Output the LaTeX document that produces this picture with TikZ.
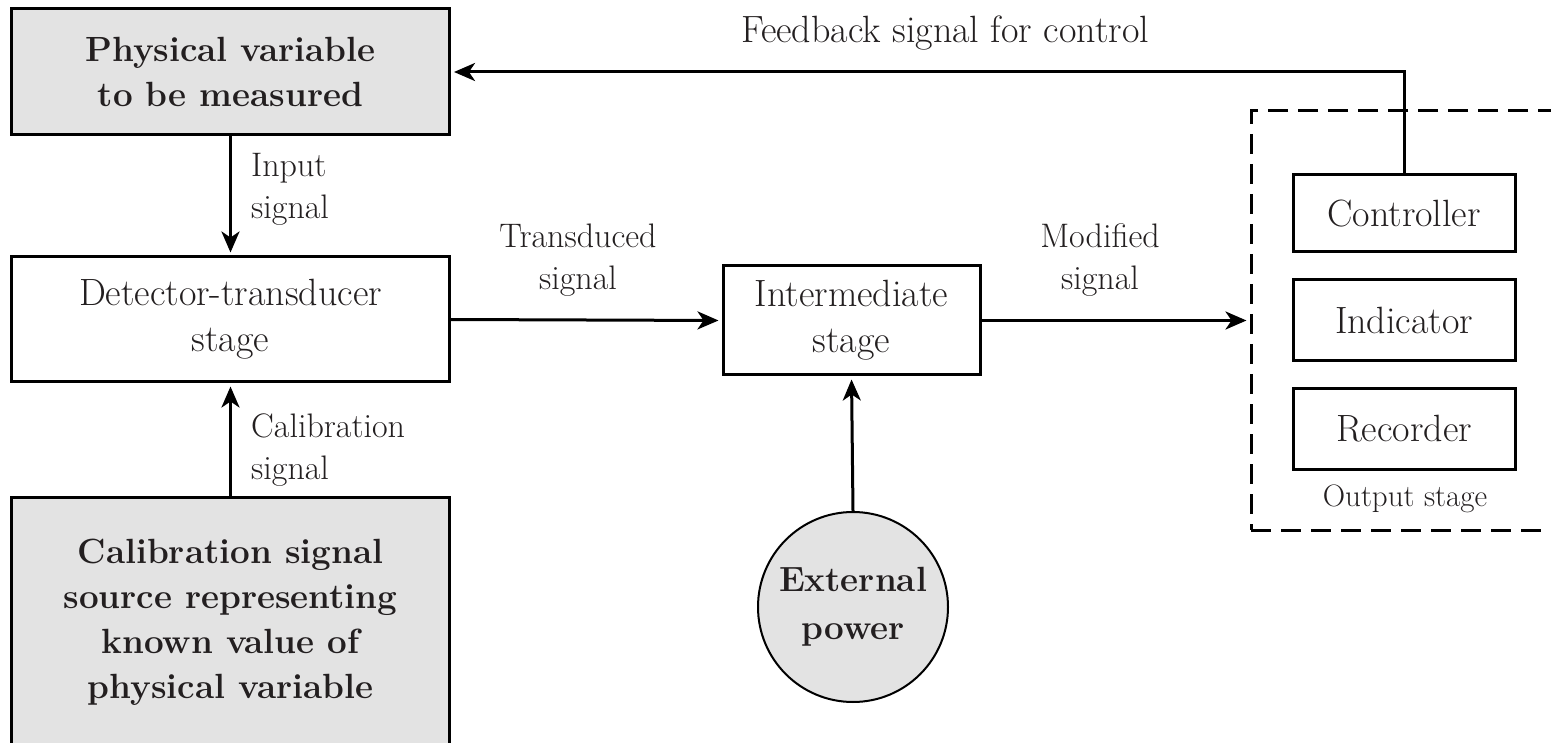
\documentclass[tikz,border=0pt]{standalone}
\usetikzlibrary{arrows.meta}
\definecolor{boxgray}{HTML}{E3E3E3}
\definecolor{txt}{HTML}{231F20}
\begin{document}
\begin{tikzpicture}[x=1pt,y=-1pt,
  every node/.style={text=txt},
  blk/.style={draw=black,line width=3pt,rectangle,inner sep=0pt,align=center,
    font=\fontsize{38}{46}\selectfont},
  grayblk/.style={blk,fill=boxgray,font=\fontsize{35}{45}\selectfont\bfseries},
  lab/.style={inner sep=0pt,align=left,font=\fontsize{34}{42}\selectfont},
  arr/.style={draw=black,line width=3pt,-{Stealth[length=21pt,width=18pt,inset=6pt]},shorten >=3pt},
  plain/.style={draw=black,line width=3pt}]
\clip (0,0) rectangle (1551,743);
\fill[white] (0,0) rectangle (1551,743);
% blocks
\node[grayblk,minimum width=438pt,minimum height=126pt] (phys) at (230.5,72) {Physical variable\\to be measured};
\node[blk,minimum width=438pt,minimum height=125pt] (det) at (230.5,319.5) {Detector-transducer\\stage};
\node[grayblk,minimum width=438pt,minimum height=250pt] (cal) at (230.5,622) {Calibration signal\\source representing\\known value of\\physical variable};
\node[blk,minimum width=257pt,minimum height=109pt] (inter) at (851.5,320.5) {Intermediate\\stage};
\node[circle,draw=black,line width=2pt,fill=boxgray,minimum size=190pt,inner sep=0pt,align=center,
  font=\fontsize{35}{48}\selectfont\bfseries] (power) at (853,607) {External\\power};
% output stage
\node[draw=black,line width=3pt,dash pattern=on 20pt off 10pt,rectangle,minimum width=349pt,minimum height=419pt,inner sep=0pt] (outbox) at (1425.5,320.5) {};
\node[blk,minimum width=222pt,minimum height=77pt] (ctrl) at (1404,213.5) {Controller};
\node[blk,minimum width=222pt,minimum height=81pt] (ind) at (1404,320.5) {Indicator};
\node[blk,minimum width=222pt,minimum height=80pt] (rec) at (1404,429) {Recorder};
\node[inner sep=0pt,font=\fontsize{31}{38}\selectfont] (outlab) at (1405,499) {Output stage};
% labels
\node[lab,anchor=west] (inlab) at (251,189) {Input\\signal};
\node[lab,anchor=west] (callab) at (251,450) {Calibration\\signal};
\node[lab,align=center] (trlab) at (578,260) {Transduced\\signal};
\node[lab,align=center] (modlab) at (1100,260) {Modified\\signal};
\node[inner sep=0pt,font=\fontsize{38}{46}\selectfont] (fblab) at (945,33) {Feedback signal for control};
% connectors
\draw[arr] (phys.south) -- (det.north);
\draw[arr] (cal.north) -- (det.south);
\draw[arr] (det.east) -- (inter.west);
\draw[arr] (inter.east) -- (inter.east -| outbox.west);
\draw[arr] (power.north) -- (inter.south);
\draw[arr] (ctrl.north) |- (phys.east);
\end{tikzpicture}
\end{document}
